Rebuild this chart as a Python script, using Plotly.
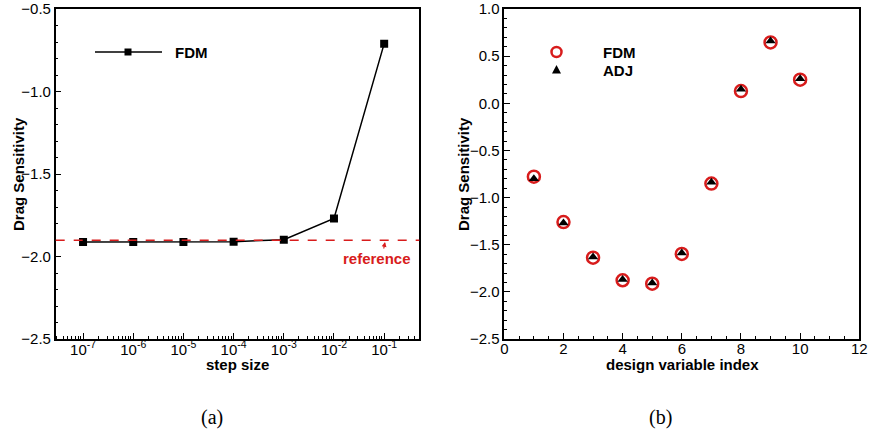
import plotly.graph_objects as go

# ---- data ----
step_sizes = [1e-7, 1e-6, 1e-5, 1e-4, 1e-3, 1e-2, 1e-1]
fdm_step = [-1.912, -1.912, -1.912, -1.910, -1.898, -1.769, -0.71]
reference_value = -1.902

design_index = [1, 2, 3, 4, 5, 6, 7, 8, 9, 10]
fdm_design = [-0.778, -1.260, -1.637, -1.877, -1.913, -1.598, -0.852, 0.130, 0.646, 0.250]
adj_design = [-0.800, -1.270, -1.630, -1.870, -1.905, -1.587, -0.838, 0.148, 0.660, 0.260]

step_tick_vals = [1e-7, 1e-6, 1e-5, 1e-4, 1e-3, 1e-2, 1e-1]
step_tick_text = ["10<sup>-7</sup>", "10<sup>-6</sup>", "10<sup>-5</sup>", "10<sup>-4</sup>",
                  "10<sup>-3</sup>", "10<sup>-2</sup>", "10<sup>-1</sup>"]

W, H = 870, 437
RED = "#d81c1c"
FONT = "Liberation Sans, Arial, sans-serif"

# domains (pixel-derived)
xd1 = [55.7 / W, 419.3 / W]
xd2 = [504.3 / W, 859.3 / W]
yd = [1 - 339 / H, 1 - 9 / H]

minor_log = [m * 10.0 ** e for e in range(-8, 0) for m in range(2, 10)]

fig = go.Figure()

fig.add_trace(go.Scatter(
    x=step_sizes, y=fdm_step, mode="lines+markers",
    line=dict(color="black", width=1.5),
    marker=dict(symbol="square", size=8, color="black"),
    xaxis="x", yaxis="y", showlegend=False))

fig.add_trace(go.Scatter(
    x=design_index, y=fdm_design, mode="markers",
    marker=dict(symbol="circle-open", size=12, color=RED, line=dict(width=2.5, color=RED)),
    xaxis="x2", yaxis="y2", showlegend=False))

fig.add_trace(go.Scatter(
    x=design_index, y=adj_design, mode="markers",
    marker=dict(symbol="triangle-up", size=9, color="black"),
    xaxis="x2", yaxis="y2", showlegend=False))

axis_common = dict(showline=True, linecolor="black", linewidth=1.5, mirror=True,
                   ticks="inside", ticklen=6, tickcolor="black", tickwidth=1,
                   showgrid=False, zeroline=False, automargin=False,
                   tickfont=dict(family=FONT, size=15, color="black"))

fig.update_layout(
    template="none",
    width=W, height=H, margin=dict(l=0, r=0, t=0, b=0, pad=0),
    paper_bgcolor="white", plot_bgcolor="white",
    xaxis=dict(domain=xd1, type="log", range=[-7.545, -0.30], anchor="y",
               tickmode="array", tickvals=step_tick_vals, ticktext=step_tick_text,
               ticklabelstandoff=-4,
               minor=dict(tickmode="array", tickvals=minor_log, ticks="inside",
                          ticklen=3, tickcolor="black"),
               **axis_common),
    yaxis=dict(domain=yd, range=[-2.5, -0.5], dtick=0.5, tickformat=".1f", anchor="x",
               minor=dict(dtick=0.1, ticks="inside", ticklen=3, tickcolor="black"),
               **axis_common),
    xaxis2=dict(domain=xd2, range=[0, 12], dtick=2, anchor="y2",
                ticklabelstandoff=-5,
                minor=dict(dtick=0.5, ticks="inside", ticklen=3, tickcolor="black"),
                **axis_common),
    yaxis2=dict(domain=yd, range=[-2.5, 1.0], dtick=0.5, tickformat=".1f", anchor="x2",
                minor=dict(dtick=0.1, ticks="inside", ticklen=3, tickcolor="black"),
                **axis_common),
)


def note(x, y, text, font, **kw):
    args = dict(x=x / W, y=1 - y / H, xref="paper", yref="paper", text=text,
                showarrow=False, font=font, xanchor="center", yanchor="middle")
    args.update(kw)
    fig.add_annotation(**args)


# reference dashed line
fig.add_shape(type="line", xref="x domain", yref="y", x0=0, x1=1,
              y0=reference_value, y1=reference_value,
              line=dict(color=RED, width=1.5, dash="dash"))
note(377, 258, "<b>reference</b>", dict(family=FONT, size=15, color=RED))
fig.add_annotation(x=385 / W, y=1 - 242 / H, ax=-1.5, ay=8,
                   xref="paper", yref="paper", axref="pixel", ayref="pixel",
                   text="", showarrow=True, arrowhead=2, arrowsize=0.8,
                   arrowwidth=1.2, arrowcolor=RED)

legend_font = dict(family=FONT, size=15, color="black")
# legend (a)
fig.add_shape(type="line", xref="paper", yref="paper", x0=95 / W, x1=162 / W,
              y0=1 - 52 / H, y1=1 - 52 / H, line=dict(color="black", width=1.5))
fig.add_shape(type="rect", xref="paper", yref="paper", x0=124.5 / W, x1=131.5 / W,
              y0=1 - 55.5 / H, y1=1 - 48.5 / H, fillcolor="black", line=dict(width=0))
note(173, 52, "<b>FDM</b>", legend_font, xanchor="left")

# legend (b)
fig.add_shape(type="circle", xref="paper", yref="paper",
              x0=551.5 / W, x1=561.5 / W, y0=1 - 57 / H, y1=1 - 47 / H,
              line=dict(color=RED, width=2.5))
fig.add_shape(type="path", xref="paper", yref="paper",
              path=f"M {552/W} {1-73.5/H} L {561/W} {1-73.5/H} L {556.5/W} {1-65/H} Z",
              fillcolor="black", line=dict(width=0))
note(601, 52, "<b>FDM</b>", legend_font, xanchor="left")
note(601, 70, "<b>ADJ</b>", legend_font, xanchor="left")

# axis titles
title_font = dict(family=FONT, size=15, color="black")
note(237, 364, "<b>step size</b>", title_font)
note(682, 364, "<b>design variable index</b>", title_font)
note(18, 174, "<b>Drag Sensitivity</b>", title_font, textangle=-90)
note(463, 174, "<b>Drag Sensitivity</b>", title_font, textangle=-90)

# captions
cap_font = dict(family="Liberation Serif, DejaVu Serif, serif", size=20, color="black")
note(212, 417, "(a)", cap_font)
note(660, 417, "(b)", cap_font)

fig.write_html("out.html", config={"displayModeBar": False},
               post_script="document.body.style.margin='0';")
